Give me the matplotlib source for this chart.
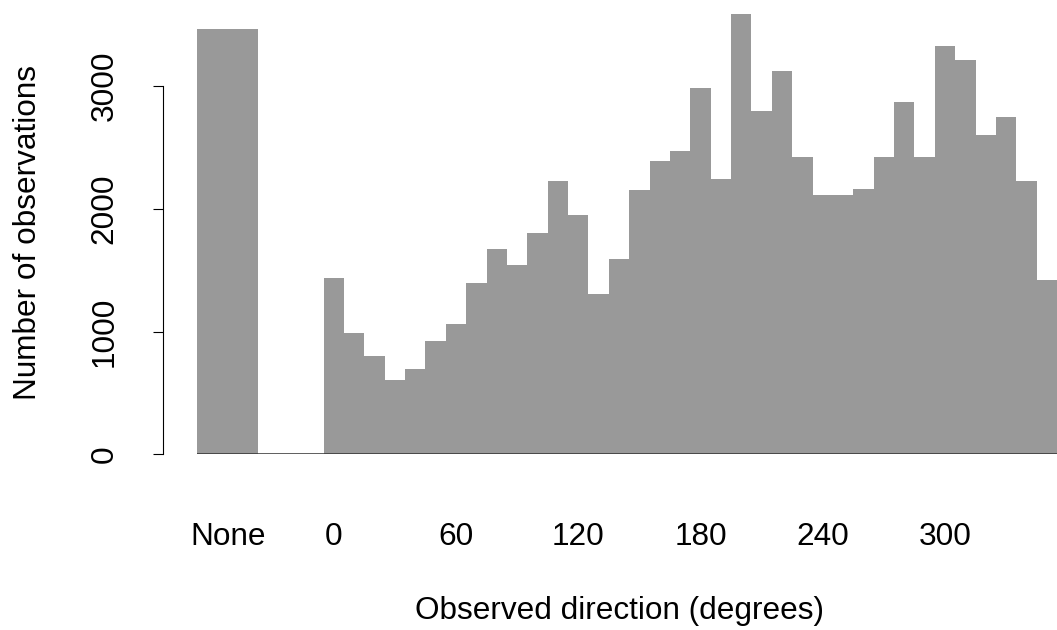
# bar chart of observed directions, with the "None" count set off on the left

import numpy as np
import matplotlib.pyplot as plt

plt.rcParams['font.family'] = ['Liberation Sans', 'DejaVu Sans']

# counts per 10-degree bin, 0..350
bin_start = list(range(0, 360, 10))
counts = [1436, 990, 801, 605, 695, 923, 1064, 1395, 1672, 1542,
          1803, 2226, 1949, 1306, 1591, 2153, 2389, 2470, 2984, 2242,
          3586, 2796, 3122, 2421, 2112, 2112, 2161, 2421, 2870, 2421,
          3326, 3212, 2601, 2747, 2226, 1420]
none_count = 3464

tick_labels = ["None", "0", "60", "120", "180", "240", "300"]
yticks = [0, 1000, 2000, 3000]

grey = "#999999"
fs = 22.7

fig = plt.figure(figsize=(10.57, 6.30), dpi=100)
ax = fig.add_axes([162.7/1057, (630-454.3)/630, 1 - 162.7/1057, 454.3/630])

centers = np.array(bin_start) + 5
ax.bar(centers, counts, width=10, color=grey, linewidth=0)
ax.bar(-47, none_count, width=30, color=grey, linewidth=0)
ax.plot([-62, 360], [0, 0], color="#333333", lw=1.1, solid_capstyle="butt")

ax.set_xlim(-79, 360)
ax.set_ylim(0, 3700.4)

for s in ["top", "right", "bottom"]:
    ax.spines[s].set_visible(False)
ax.spines["left"].set_bounds(0, 3000)
ax.spines["left"].set_linewidth(0.8)

ax.set_yticks(yticks)
ax.set_yticklabels([str(v) for v in yticks], rotation=90, va="center", fontsize=fs)
ax.tick_params(axis="y", length=7, width=0.8, pad=24)

xpos = [-47] + [int(t) + 5 for t in tick_labels[1:]]
ax.set_xticks(xpos)
ax.set_xticklabels(tick_labels, fontsize=fs)
ax.tick_params(axis="x", length=0, pad=48.5)

ax.set_xlabel("Observed direction (degrees)", fontsize=fs, labelpad=32)
ax.xaxis.label.set_x(0.511)
ax.set_ylabel("Number of observations", fontsize=fs, labelpad=33.5)
ax.yaxis.label.set_y(0.488)

fig.savefig("out.png", dpi=100)
